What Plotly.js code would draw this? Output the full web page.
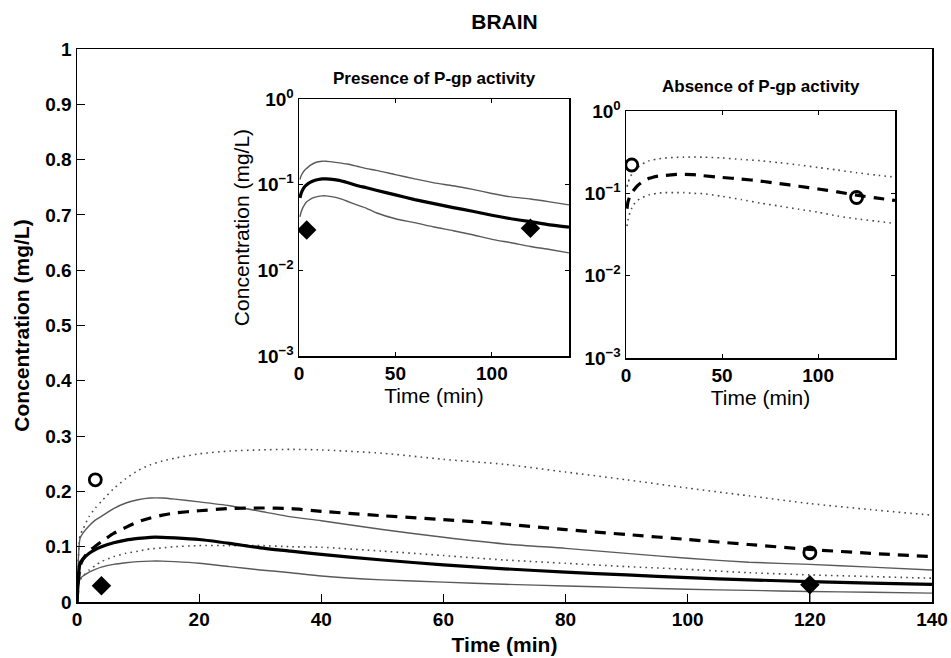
<!DOCTYPE html>
<html>
<head>
<meta charset="utf-8">
<script src="https://cdn.plot.ly/plotly-3.0.1.min.js"></script>
<style>
html,body{margin:0;padding:0;background:#fff}
#wrap{position:relative;width:951px;height:658px}
#chart{position:absolute;left:0;top:0;width:951px;height:658px}
#box{position:absolute;box-sizing:border-box;border-top:1.5px solid #000;border-right:1.5px solid #000;pointer-events:none}
</style>
</head>
<body>
<div id="wrap"><div id="chart"></div><div id="box"></div></div>
<script>
// ---- data ----
const time = [0,0.5,1,2,3,4,6,8,10,12,14,16,20,25,30,35,40,50,60,70,80,90,100,110,120,130,140];
// presence of P-gp activity
const presMean  = [0,0.070,0.078,0.088,0.095,0.100,0.107,0.112,0.115,0.117,0.117,0.116,0.113,0.106,0.098,0.092,0.086,0.076,0.067,0.060,0.054,0.049,0.044,0.040,0.037,0.034,0.032];
const presUpper = [0,0.115,0.125,0.138,0.148,0.155,0.169,0.179,0.185,0.188,0.188,0.186,0.181,0.174,0.164,0.154,0.147,0.131,0.117,0.105,0.097,0.088,0.079,0.072,0.068,0.063,0.058];
const presLower = [0,0.042,0.047,0.054,0.059,0.063,0.068,0.071,0.073,0.074,0.074,0.073,0.070,0.064,0.058,0.053,0.047,0.040,0.036,0.032,0.029,0.026,0.023,0.021,0.019,0.0175,0.016];
// absence of P-gp activity
const absMean   = [0,0.065,0.078,0.092,0.101,0.109,0.124,0.135,0.145,0.152,0.157,0.161,0.165,0.169,0.170,0.169,0.164,0.156,0.149,0.141,0.131,0.122,0.113,0.104,0.095,0.088,0.082];
const absUpper  = [0,0.120,0.132,0.155,0.170,0.182,0.205,0.223,0.238,0.248,0.255,0.260,0.268,0.273,0.275,0.276,0.275,0.269,0.258,0.249,0.235,0.221,0.206,0.192,0.178,0.167,0.157];
const absLower  = [0,0.040,0.047,0.058,0.066,0.073,0.082,0.088,0.092,0.096,0.098,0.100,0.102,0.102,0.102,0.100,0.099,0.092,0.084,0.076,0.070,0.064,0.059,0.053,0.049,0.046,0.043];
// observations
const obsPresTime = [4,120];
const obsPresConc = [0.0295,0.031];
const obsPresErrMinus = [0,0.031];
const obsAbsTime = [3,120];
const obsAbsConc = [0.221,0.089];
// ticks
const mainXTicks = [0,20,40,60,80,100,120,140];
const mainYTicks = [0,0.1,0.2,0.3,0.4,0.5,0.6,0.7,0.8,0.9,1];
const insetXTicks = [0,50,100];
const insetYTicks = [0.001,0.01,0.1,1];
const insetYTickText = ['10<sup>−3</sup>','10<sup>−2</sup>','10<sup>−1</sup>','10<sup>0</sup>'];

// ---- styles ----
const FONT = 'Liberation Sans, Arial, Helvetica, sans-serif';
const thick = {color:'#000', width:3.2};
const thin = {color:'#5a5a5a', width:1.4};
const dotted = {color:'#4a4a4a', width:1.6, dash:'1.6px,4.2px'};
const dashed = {color:'#000', width:3.2, dash:'11px,8px'};

const pos = a => a.slice(1);
const tpos = time.slice(1);

function line(x, y, ln, xa, ya){
  return {type:'scatter', mode:'lines', x:x, y:y, line:Object.assign({shape:'spline', smoothing:0.6}, ln), xaxis:xa, yaxis:ya, hoverinfo:'skip', showlegend:false};
}
const circleMarker = {symbol:'circle-open', size:12, color:'#000', line:{width:2.8, color:'#000'}};
const diamondMarker = {symbol:'diamond', size:15, color:'#000', line:{width:0}};

const traces = [
  // main
  line(time, absUpper, dotted, 'x', 'y'),
  line(time, absLower, dotted, 'x', 'y'),
  line(time, presUpper, thin, 'x', 'y'),
  line(time, presLower, thin, 'x', 'y'),
  line(time, absMean, dashed, 'x', 'y'),
  line(time, presMean, thick, 'x', 'y'),
  {type:'scatter', mode:'markers', x:obsAbsTime, y:obsAbsConc, marker:circleMarker, xaxis:'x', yaxis:'y', showlegend:false},
  {type:'scatter', mode:'markers', x:obsPresTime, y:obsPresConc, marker:diamondMarker, xaxis:'x', yaxis:'y', showlegend:false,
    error_y:{type:'data', symmetric:false, array:[0,0], arrayminus:obsPresErrMinus, color:'#000', thickness:1.2, width:0}},
  // inset 1 - presence
  line(tpos, pos(presUpper), thin, 'x2', 'y2'),
  line(tpos, pos(presLower), thin, 'x2', 'y2'),
  line(tpos, pos(presMean), thick, 'x2', 'y2'),
  {type:'scatter', mode:'markers', x:obsPresTime, y:obsPresConc, marker:diamondMarker, xaxis:'x2', yaxis:'y2', showlegend:false},
  // inset 2 - absence
  line(tpos, pos(absUpper), dotted, 'x3', 'y3'),
  line(tpos, pos(absLower), dotted, 'x3', 'y3'),
  line(tpos, pos(absMean), dashed, 'x3', 'y3'),
  {type:'scatter', mode:'markers', x:obsAbsTime, y:obsAbsConc, marker:circleMarker, xaxis:'x3', yaxis:'y3', showlegend:false}
];

const W = 951, H = 658;
const MAIN = {l:77, r:932, t:49, b:602};
const dx = (a,b) => [a/W, b/W];
const dy = (top,bottom) => [1-bottom/H, 1-top/H];

function axisBase(m){
  return {showline:true, linecolor:'#000', linewidth:1.5, mirror:m, ticks:'inside', tickcolor:'#000',
          showgrid:false, zeroline:false};
}

const tickBold = {family:FONT, size:19, color:'#000', weight:'bold'};
const tickInset = {family:FONT, size:19, color:'#000', weight:'bold'};

const layout = {
  width:W, height:H,
  margin:{l:0,r:0,t:0,b:0},
  paper_bgcolor:'#fff', plot_bgcolor:'#fff',
  showlegend:false,
  font:{family:FONT, color:'#000'},
  title:{text:'BRAIN', x:504.5/W, xanchor:'center', y:1-22/H, yanchor:'middle', yref:'container',
         font:{family:FONT, size:21, weight:'bold', color:'#000'}},
  xaxis: Object.assign(axisBase(true), {domain:dx(MAIN.l,MAIN.r), range:[0,140], tickmode:'array', tickvals:mainXTicks, ticklen:8,
         tickfont:tickBold, anchor:'y',
         title:{text:'Time (min)', font:{family:FONT, size:21, weight:'bold', color:'#000'}, standoff:8}}),
  yaxis: Object.assign(axisBase(true), {domain:dy(MAIN.t,MAIN.b), range:[0,1], tickmode:'array', tickvals:mainYTicks, ticklen:8,
         tickfont:tickBold, anchor:'x',
         title:{text:'Concentration (mg/L)', font:{family:FONT, size:21, weight:'bold', color:'#000'}, standoff:10}}),
  xaxis2: Object.assign(axisBase('ticks'), {domain:dx(299,569), range:[0,140], tickmode:'array', tickvals:insetXTicks, ticklen:4,
         tickfont:tickInset, anchor:'y2',
         title:{text:'Time (min)', font:{family:FONT, size:21, color:'#000'}, standoff:2}}),
  yaxis2: Object.assign(axisBase('ticks'), {domain:dy(99,356), type:'log', range:[-3,0], tickmode:'array', tickvals:insetYTicks,
         ticktext:insetYTickText, ticklen:4, tickfont:tickInset, anchor:'x2',
         title:{text:'Concentration (mg/L)', font:{family:FONT, size:21, color:'#000'}, standoff:2}}),
  xaxis3: Object.assign(axisBase('ticks'), {domain:dx(626,895), range:[0,140], tickmode:'array', tickvals:insetXTicks, ticklen:4,
         tickfont:tickInset, anchor:'y3',
         title:{text:'Time (min)', font:{family:FONT, size:21, color:'#000'}, standoff:2}}),
  yaxis3: Object.assign(axisBase('ticks'), {domain:dy(111,358), type:'log', range:[-3,0], tickmode:'array', tickvals:insetYTicks,
         ticktext:insetYTickText, ticklen:4, tickfont:tickInset, anchor:'x3'}),
  annotations:[
    {text:'Presence of P-gp activity', xref:'paper', yref:'paper', x:434/W, y:1-78/H, xanchor:'center', yanchor:'middle',
     showarrow:false, font:{family:FONT, size:17, weight:'bold', color:'#000'}},
    {text:'Absence of P-gp activity', xref:'paper', yref:'paper', x:761/W, y:1-87/H, xanchor:'center', yanchor:'middle',
     showarrow:false, font:{family:FONT, size:17, weight:'bold', color:'#000'}}
  ]
};

// CSS frame for the top/right edges of the main panel
const box = document.getElementById('box');
box.style.left = MAIN.l + 'px';
box.style.top = (MAIN.t - 1) + 'px';
box.style.width = (MAIN.r - MAIN.l + 2) + 'px';
box.style.height = (MAIN.b - MAIN.t + 1) + 'px';

Plotly.newPlot('chart', traces, layout, {staticPlot:true, displayModeBar:false});
</script>
</body>
</html>
